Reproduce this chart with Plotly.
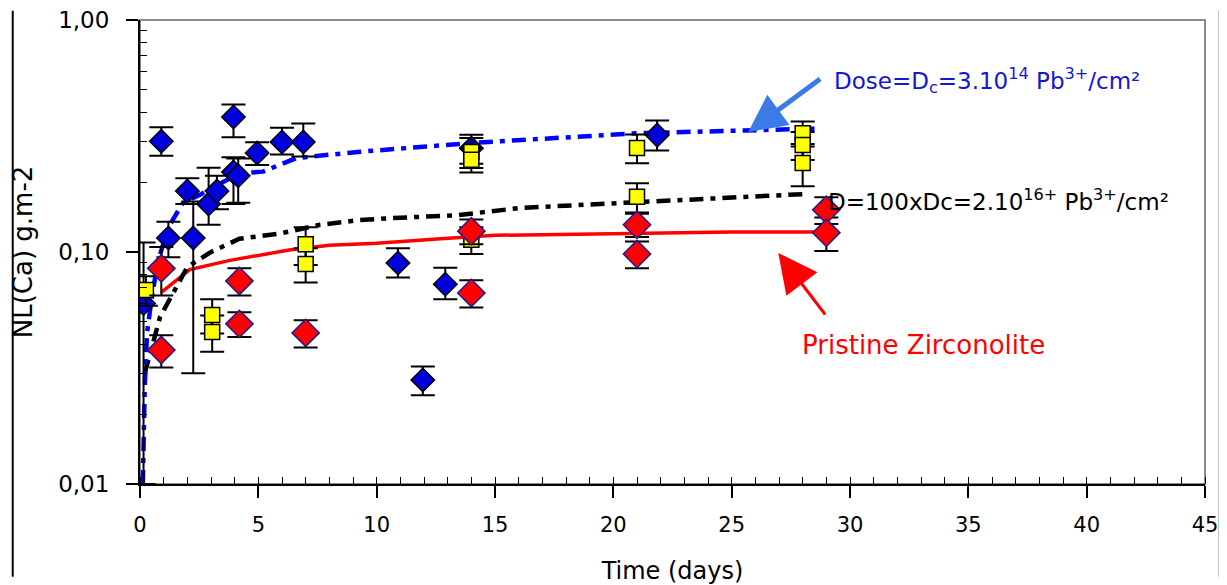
import plotly.graph_objects as go

# ---- data ----
# Dc irradiated (blue diamonds)
dc_x = [0.15, 0.9, 1.2, 2.0, 2.25, 2.9, 3.25, 3.95, 3.95, 4.15, 4.95, 6.0, 6.9, 10.9, 11.95, 12.9, 14.0, 21.85]
dc_y = [0.060, 0.30, 0.115, 0.183, 0.115, 0.161, 0.183, 0.382, 0.221, 0.213, 0.267, 0.298, 0.298, 0.0897, 0.0281, 0.0726, 0.28, 0.319]
dc_ep = [0.05, 0.045, 0.02, 0.025, 0.05, 0.07, 0.03, 0.05, 0.035, 0.04, 0.03, 0.045, 0.06, 0.014, 0.004, 0.013, 0.04, 0.05]
dc_em = [0.05, 0.04, 0.02, 0.022, 0.085, 0.03, 0.03, 0.07, 0.06, 0.05, 0.03, 0.035, 0.04, 0.012, 0.004, 0.01, 0.04, 0.045]

# 100xDc irradiated (yellow squares)
d100_x = [0.25, 3.05, 3.05, 7.0, 7.0, 14.0, 14.0, 14.0, 21.0, 21.0, 28.0, 28.0, 28.0]
d100_y = [0.0686, 0.0535, 0.0452, 0.108, 0.0888, 0.27, 0.25, 0.113, 0.281, 0.173, 0.325, 0.289, 0.242]
d100_e = [0.01, 0.009, 0.008, 0.02, 0.015, 0.04, 0.03, 0.015, 0.04, 0.025, 0.04, 0.04, 0.05]

# Pristine zirconolite (red diamonds)
pr_x = [0.9, 0.9, 4.2, 4.2, 7.0, 14.0, 14.0, 21.0, 21.0, 29.0, 29.0]
pr_y = [0.085, 0.0378, 0.075, 0.049, 0.0448, 0.123, 0.0666, 0.131, 0.098, 0.152, 0.121]
pr_e = [0.02, 0.006, 0.01, 0.006, 0.006, 0.015, 0.009, 0.015, 0.013, 0.02, 0.02]

# fitted curves
fit_dc_x = [0.12, 0.2, 0.3, 0.5, 0.75, 1.0, 1.3, 1.8, 2.6, 3.0, 4.2, 5.2, 6.6, 9.2, 14, 21, 28.5]
fit_dc_y = [0.01, 0.026, 0.045, 0.064, 0.09, 0.11, 0.133, 0.162, 0.178, 0.188, 0.218, 0.222, 0.254, 0.27, 0.295, 0.325, 0.34]

fit_100_x = [0.2, 0.55, 0.85, 2.0, 3.0, 4.2, 5.9, 7.6, 9.2, 10.6, 13.4, 16.1, 17.75, 22, 24.5, 28.2]
fit_100_y = [0.03, 0.0405, 0.0525, 0.0862, 0.1, 0.114, 0.12, 0.131, 0.137, 0.14, 0.144, 0.155, 0.158, 0.167, 0.171, 0.178]

fit_pr_x = [0.9, 2.1, 3.8, 6.3, 8, 10, 12.7, 15, 25, 28.5]
fit_pr_y = [0.067, 0.084, 0.092, 0.102, 0.107, 0.109, 0.114, 0.118, 0.122, 0.122]

x_ticks = [0, 5, 10, 15, 20, 25, 30, 35, 40, 45]
y_ticks = [0.01, 0.1, 1.0]
y_ticktext = ["0,01", "0,10", "1,00"]

FONT = "DejaVu Sans"

fig = go.Figure()

fig.add_trace(go.Scatter(x=fit_pr_x, y=fit_pr_y, mode="lines",
                         line=dict(color="#ff0000", width=3.5), showlegend=False))
fig.add_trace(go.Scatter(x=fit_100_x, y=fit_100_y, mode="lines",
                         line=dict(color="#000000", width=4.5, dash="14px,7px,5px,7px"), showlegend=False))
fig.add_trace(go.Scatter(x=fit_dc_x, y=fit_dc_y, mode="lines",
                         line=dict(color="#0000ff", width=4.5, dash="14px,7px,5px,7px"), showlegend=False))

err_style = dict(color="black", thickness=2, width=12)

fig.add_trace(go.Scatter(
    x=dc_x, y=dc_y, mode="markers",
    marker=dict(symbol="diamond", size=18, color="#0000dd", line=dict(color="black", width=1.5)),
    error_y=dict(type="data", symmetric=False, array=dc_ep, arrayminus=dc_em, **err_style),
    showlegend=False))
fig.add_trace(go.Scatter(
    x=d100_x, y=d100_y, mode="markers",
    marker=dict(symbol="square", size=15, color="#ffff00", line=dict(color="black", width=1.5)),
    error_y=dict(type="data", array=d100_e, **err_style),
    showlegend=False))
fig.add_trace(go.Scatter(
    x=pr_x, y=pr_y, mode="markers",
    marker=dict(symbol="diamond", size=21, color="#ff0000", line=dict(color="#1a1a8c", width=1.5)),
    error_y=dict(type="data", array=pr_e, **err_style),
    showlegend=False))

minor_y = [k * 10 ** e for e in (-2, -1) for k in range(2, 10)]

fig.update_xaxes(
    range=[0, 45], tickmode="array", tickvals=x_ticks, automargin=False,
    ticks="outside", ticklen=12, tickwidth=1.5, tickcolor="black",
    showline=True, linecolor="black", linewidth=2, showgrid=False, zeroline=False,
    minor=dict(tickmode="linear", tick0=0, dtick=1, ticks="inside", ticklen=7,
               tickcolor="black", tickwidth=1, showgrid=False),
    ticklabelstandoff=9, ticklabeloverflow="allow",
    tickfont=dict(family=FONT, size=21, color="black"),
    title=dict(text="Time (days)", font=dict(family=FONT, size=24, color="black"), standoff=26),
)
fig.update_yaxes(
    type="log", range=[-2, 0], tickmode="array", tickvals=y_ticks, ticktext=y_ticktext,
    automargin=False,
    ticks="outside", ticklen=12, tickwidth=1.5, tickcolor="black",
    showline=True, linecolor="black", linewidth=2, showgrid=False, zeroline=False,
    minor=dict(tickmode="array", tickvals=minor_y, ticks="inside", ticklen=7,
               tickcolor="black", tickwidth=1, showgrid=False),
    ticklabelstandoff=12, ticklabeloverflow="allow",
    tickfont=dict(family=FONT, size=23, color="black"),
    title=dict(text="NL(Ca) g.m-2", font=dict(family=FONT, size=26, color="black"), standoff=26),
)

# plot frame (top/right grey) and page edges
fig.add_shape(type="rect", xref="paper", yref="paper", x0=0, x1=1, y0=0, y1=1,
              line=dict(color="#8a8a8a", width=2), layer="below")
fig.add_shape(type="line", xref="paper", yref="paper", x0=-0.1195, x1=-0.1195, y0=-0.2, y1=1.02,
              line=dict(color="black", width=2))
fig.add_shape(type="line", xref="paper", yref="paper", x0=1.0135, x1=1.0135, y0=-0.2, y1=1.02,
              line=dict(color="#9a9a9a", width=2))

# arrows
fig.add_annotation(x=25.7, y=-0.483, ax=28.8, ay=-0.25, xref="x", yref="y", axref="x", ayref="y",
                   text="", showarrow=True, arrowhead=2, arrowsize=1.5, arrowwidth=5,
                   arrowcolor="#3b7be6")
fig.add_annotation(x=26.97, y=-1.004, ax=29.0, ay=-1.276, xref="x", yref="y", axref="x", ayref="y",
                   text="", showarrow=True, arrowhead=2, arrowsize=2.6, arrowwidth=3,
                   arrowcolor="#ff0000")

# labels
fig.add_annotation(x=29.25, y=-0.259, xref="x", yref="y", xanchor="left", yanchor="middle",
                   text="Dose=D<sub>c</sub>=3.10<sup>14</sup> Pb<sup>3+</sup>/cm²", showarrow=False,
                   font=dict(family=FONT, size=23, color="#1515d8"))
fig.add_annotation(x=29.0, y=-0.776, xref="x", yref="y", xanchor="left", yanchor="middle",
                   text="D=100xDc=2.10<sup>16+</sup> Pb<sup>3+</sup>/cm²", showarrow=False,
                   font=dict(family=FONT, size=23, color="black"))
fig.add_annotation(x=27.9, y=-1.401, xref="x", yref="y", xanchor="left", yanchor="middle",
                   text="Pristine Zirconolite", showarrow=False,
                   font=dict(family=FONT, size=26, color="#ff0000"))

fig.update_layout(
    width=1219, height=577,
    margin=dict(l=132, r=22, t=12, b=101),
    plot_bgcolor="white", paper_bgcolor="white",
    showlegend=False,
)

fig.write_html("out.html")
